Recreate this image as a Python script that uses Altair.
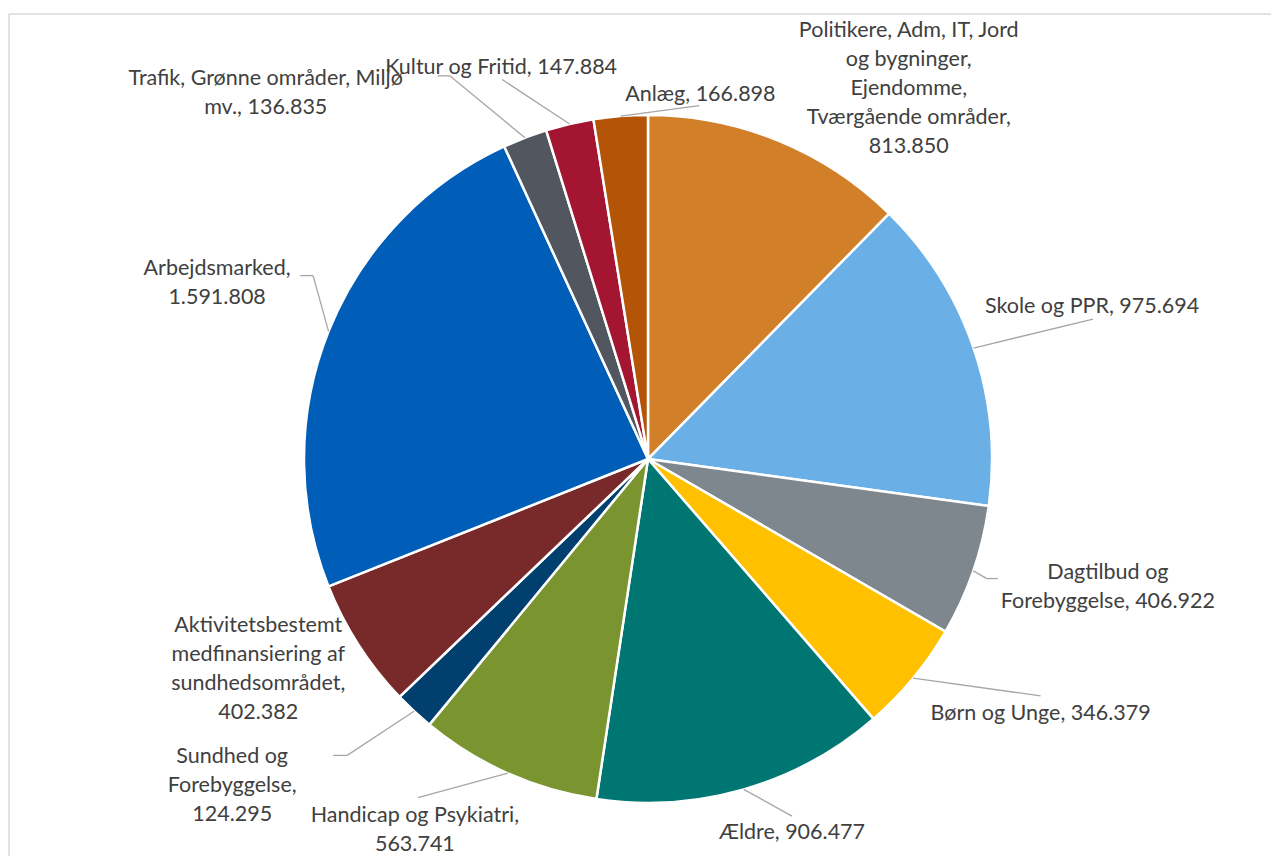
import altair as alt
import pandas as pd

# ---- data ----
names = [
    "Politikere, Adm, IT, Jord\nog bygninger,\nEjendomme,\nTværgående områder",
    "Skole og PPR",
    "Dagtilbud og\nForebyggelse",
    "Børn og Unge",
    "Ældre",
    "Handicap og Psykiatri",
    "Sundhed og\nForebyggelse",
    "Aktivitetsbestemt\nmedfinansiering af\nsundhedsområdet",
    "Arbejdsmarked",
    "Trafik, Grønne områder, Miljø\nmv.",
    "Kultur og Fritid",
    "Anlæg",
]
values = [813850, 975694, 406922, 346379, 906477, 563741,
          124295, 402382, 1591808, 136835, 147884, 166898]
value_on_new_line = [True, False, False, False, False, True,
                     True, True, True, False, False, False]

# ---- styling / label layout ----
colors = ["#D17F29", "#6AB0E6", "#7F878E", "#FFC000", "#007672", "#7A9430",
          "#003F6E", "#782A2A", "#005EB8", "#52565E", "#A31530", "#B35407"]
label_shift_deg = [12.8, -0.3, -3.6, -6.8, -5.0, 8.2, 9.1, 4.6, 0.6, -25.2, -7.3, 12.7]
label_dist = [454, 470, 477, 467, 399, 437, 528, 442, 466, 530, 420, 370]
has_leader = [0, 1, 1, 1, 1, 1, 1, 0, 1, 1, 1, 1]
end_dx = [0, 1, -110, 0, 0, 3, 101, 0, 83, 172, 1, -1]
end_dy = [0, 14, -7, -16, -15, -31, -29, 0, -6, -16, 14, 13]
elbow = [0, 0, -11, 0, 0, 0, 14, 0, 13, 12, 0, 0]

R = 344
W, H = 1263, 848
CX, CY = 640, 451
LH = 29


def fmt(v):
    return f"{v:,}".replace(",", ".")


labels = [n + (",\n" if nl else ", ") + fmt(v)
          for n, v, nl in zip(names, values, value_on_new_line)]

df = pd.DataFrame({
    "idx": list(range(len(values))),
    "value": values,
    "label": labels,
    "nlines": [lab.count("\n") + 1 for lab in labels],
    "shift": label_shift_deg,
    "dist": label_dist,
    "leader": has_leader,
    "edx": end_dx,
    "edy": end_dy,
    "elbow": elbow,
})

xs = alt.Scale(domain=[-CX, W - CX], nice=False, zero=False)
ys = alt.Scale(domain=[-CY, H - CY], nice=False, zero=False, reverse=True)

base = alt.Chart(df).transform_joinaggregate(
    total="sum(value)"
).transform_window(
    cum="sum(value)", sort=[alt.SortField("idx")], frame=[None, 0]
).transform_calculate(
    mid="(datum.cum - datum.value / 2) / datum.total * 2 * PI",
).transform_calculate(
    la="datum.mid + datum.shift * PI / 180",
    ex=f"{R} * sin(datum.mid)",
    ey=f"-{R} * cos(datum.mid)",
).transform_calculate(
    lx="datum.dist * sin(datum.la)",
    ly="-datum.dist * cos(datum.la)",
).transform_calculate(
    ly_first=f"datum.ly - (datum.nlines - 1) * {LH} / 2",
    tx="datum.lx + datum.edx",
    ty="datum.ly + datum.edy",
).transform_calculate(
    bx="datum.tx + datum.elbow",
    by="datum.ty",
)

pie = alt.Chart(df).mark_arc(radius=R, stroke="white", strokeWidth=2.5).encode(
    theta=alt.Theta("value:Q", stack=True),
    color=alt.Color("idx:N", scale=alt.Scale(domain=list(range(len(values))), range=colors), legend=None),
    order=alt.Order("idx:Q"),
    x=alt.value(CX),
    y=alt.value(CY),
)

lead1 = base.transform_filter("datum.leader == 1").mark_rule(
    color="#A6A6A6", strokeWidth=1.3
).encode(
    x=alt.X("ex:Q", scale=xs, axis=None),
    y=alt.Y("ey:Q", scale=ys, axis=None),
    x2="bx:Q",
    y2="by:Q",
)

lead2 = base.transform_filter("datum.leader == 1 && datum.elbow != 0").mark_rule(
    color="#A6A6A6", strokeWidth=1.3
).encode(
    x=alt.X("bx:Q", scale=xs, axis=None),
    y=alt.Y("by:Q", scale=ys, axis=None),
    x2="tx:Q",
    y2="ty:Q",
)

text = base.mark_text(
    font="Lato", fontSize=21.5, color="#404040", lineBreak="\n", lineHeight=LH,
    align="center", baseline="middle", dy=2
).encode(
    x=alt.X("lx:Q", scale=xs, axis=None),
    y=alt.Y("ly_first:Q", scale=ys, axis=None),
    text="label:N",
)

frame_df = pd.DataFrame({"a": [0]})
top_border = alt.Chart(frame_df).mark_rule(color="#D9D9D9", strokeWidth=1.5).encode(
    x=alt.value(1), x2=alt.value(W), y=alt.value(6)
)
left_border = alt.Chart(frame_df).mark_rule(color="#D9D9D9", strokeWidth=1.5).encode(
    x=alt.value(1), y=alt.value(6), y2=alt.value(H)
)

chart = alt.layer(top_border, left_border, pie, lead1, lead2, text).properties(
    width=W, height=H, padding=0, autosize=alt.AutoSizeParams(type="none"),
    background="white"
).configure_view(stroke=None)

chart.save("out.html", embed_options={"renderer": "svg", "actions": False})
